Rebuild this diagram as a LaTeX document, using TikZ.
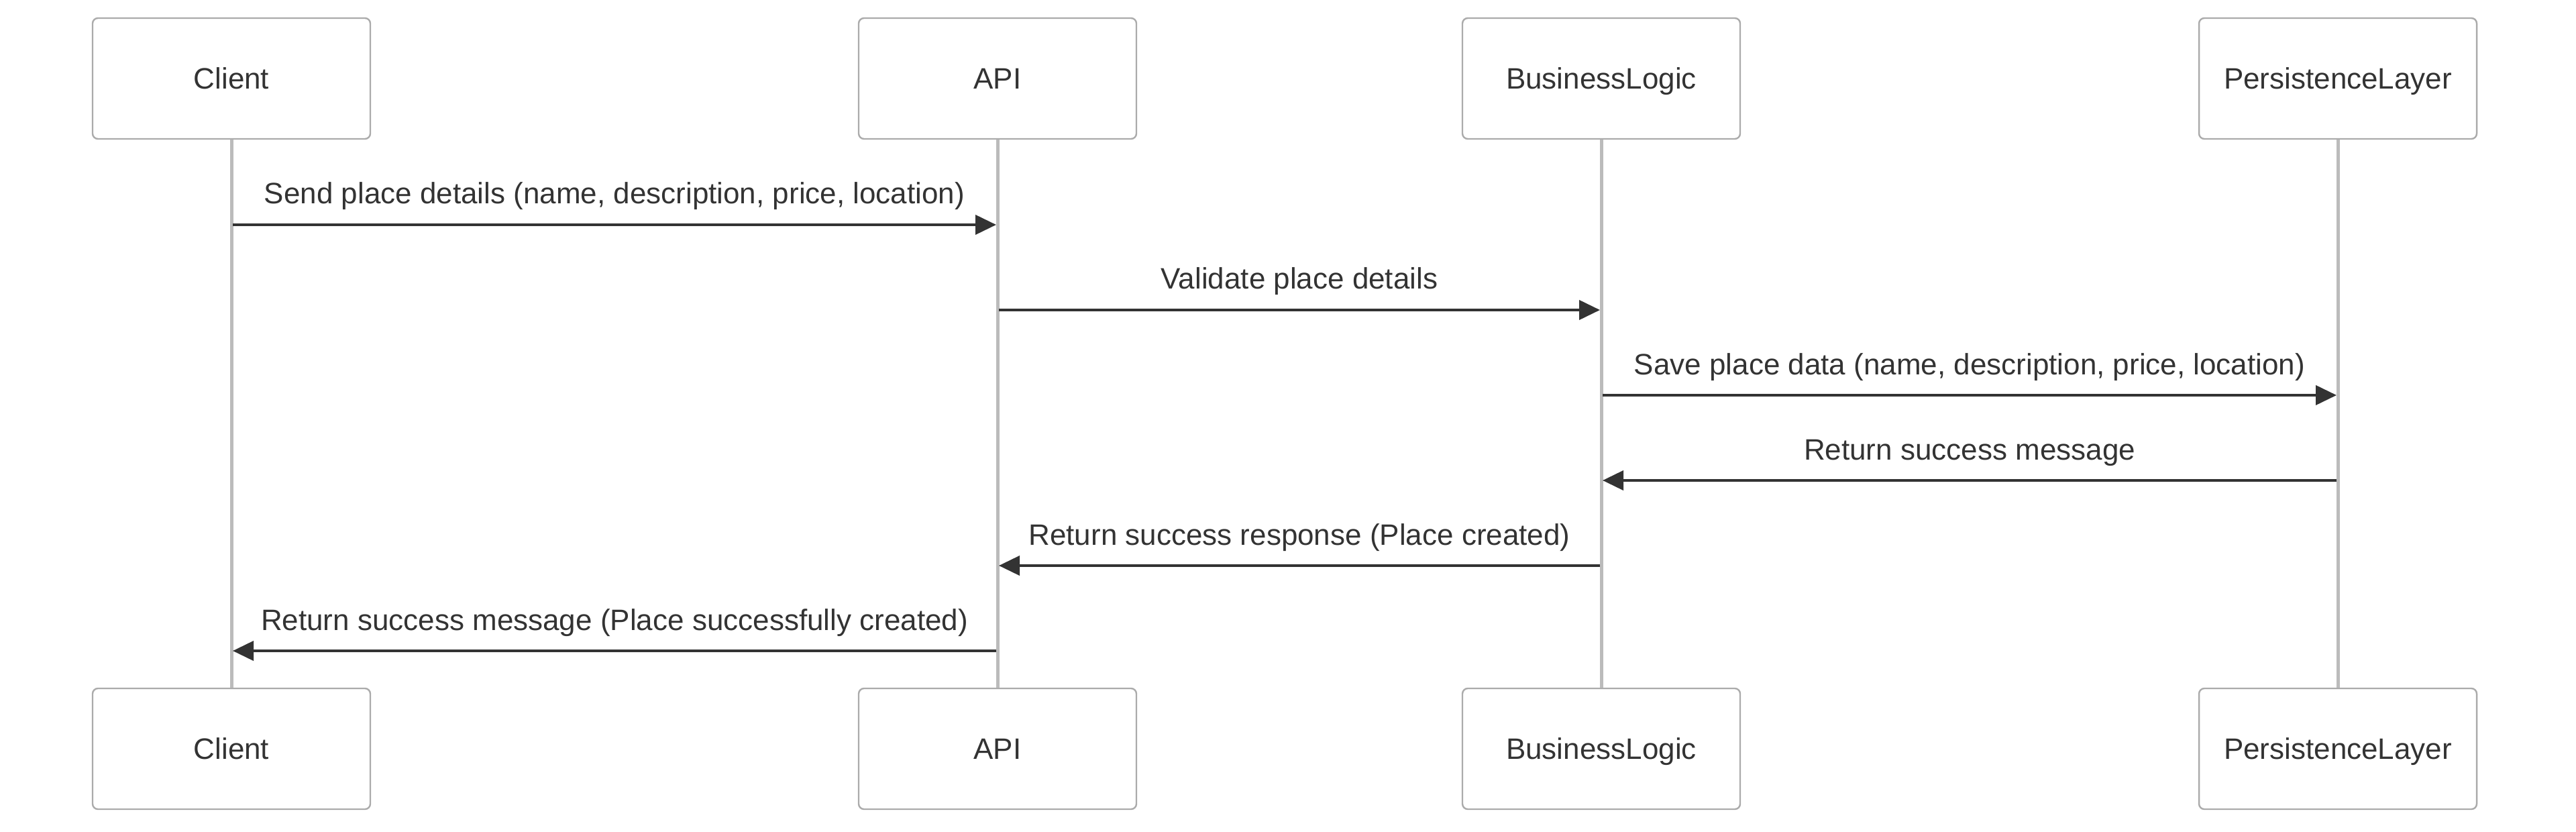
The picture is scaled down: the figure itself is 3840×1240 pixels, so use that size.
\documentclass[tikz,border=0pt]{standalone}
\usepackage{fontspec}
\setmainfont{Liberation Sans}
\usetikzlibrary{arrows.meta}
\definecolor{boxline}{HTML}{ABABAB}
\definecolor{lifeline}{HTML}{BBBBBB}
\definecolor{ink}{HTML}{333333}
\begin{document}
\begin{tikzpicture}[x=0.25pt,y=-0.25pt,
  font=\fontsize{11pt}{13pt}\selectfont,
  actor/.style={draw=boxline, line width=0.6pt, fill=white, rounded corners=2pt,
    minimum width=103.5pt, minimum height=45pt, inner sep=0pt, text=ink,
    text height=7.9pt, text depth=0pt},
  life/.style={draw=lifeline, line width=1.25pt},
  msg/.style={draw=ink, line width=1pt, -{Triangle[length=7.75pt,width=7.25pt]},
    shorten >=0.5pt, shorten <=0.5pt},
  lbl/.style={anchor=base, yshift=7.75pt, text=ink, inner sep=0pt}]
\useasboundingbox (0,0) rectangle (3840,1240);
% top actors
\node[actor] (client) at (345,117) {Client};
\node[actor] (api) at (1487,117) {API};
\node[actor] (bl) at (2387,117) {BusinessLogic};
\node[actor] (pl) at (3485,117) {PersistenceLayer};
% bottom actors
\node[actor] (clientB) at (345,1116) {Client};
\node[actor] (apiB) at (1487,1116) {API};
\node[actor] (blB) at (2387,1116) {BusinessLogic};
\node[actor] (plB) at (3485,1116) {PersistenceLayer};
% lifelines
\draw[life] (client.south) -- (clientB.north);
\draw[life] (api.south) -- (apiB.north);
\draw[life] (bl.south) -- (blB.north);
\draw[life] (pl.south) -- (plB.north);
% message rows
\coordinate (m1) at (0,335);
\coordinate (m2) at (0,462);
\coordinate (m3) at (0,589);
\coordinate (m4) at (0,716);
\coordinate (m5) at (0,843);
\coordinate (m6) at (0,970);
\draw[msg] (client |- m1) -- node[lbl] {Send place details (name, description, price, location)} (api |- m1);
\draw[msg] (api |- m2) -- node[lbl] {Validate place details} (bl |- m2);
\draw[msg] (bl |- m3) -- node[lbl] {Save place data (name, description, price, location)} (pl |- m3);
\draw[msg] (pl |- m4) -- node[lbl] {Return success message} (bl |- m4);
\draw[msg] (bl |- m5) -- node[lbl] {Return success response (Place created)} (api |- m5);
\draw[msg] (api |- m6) -- node[lbl] {Return success message (Place successfully created)} (client |- m6);
\end{tikzpicture}
\end{document}
